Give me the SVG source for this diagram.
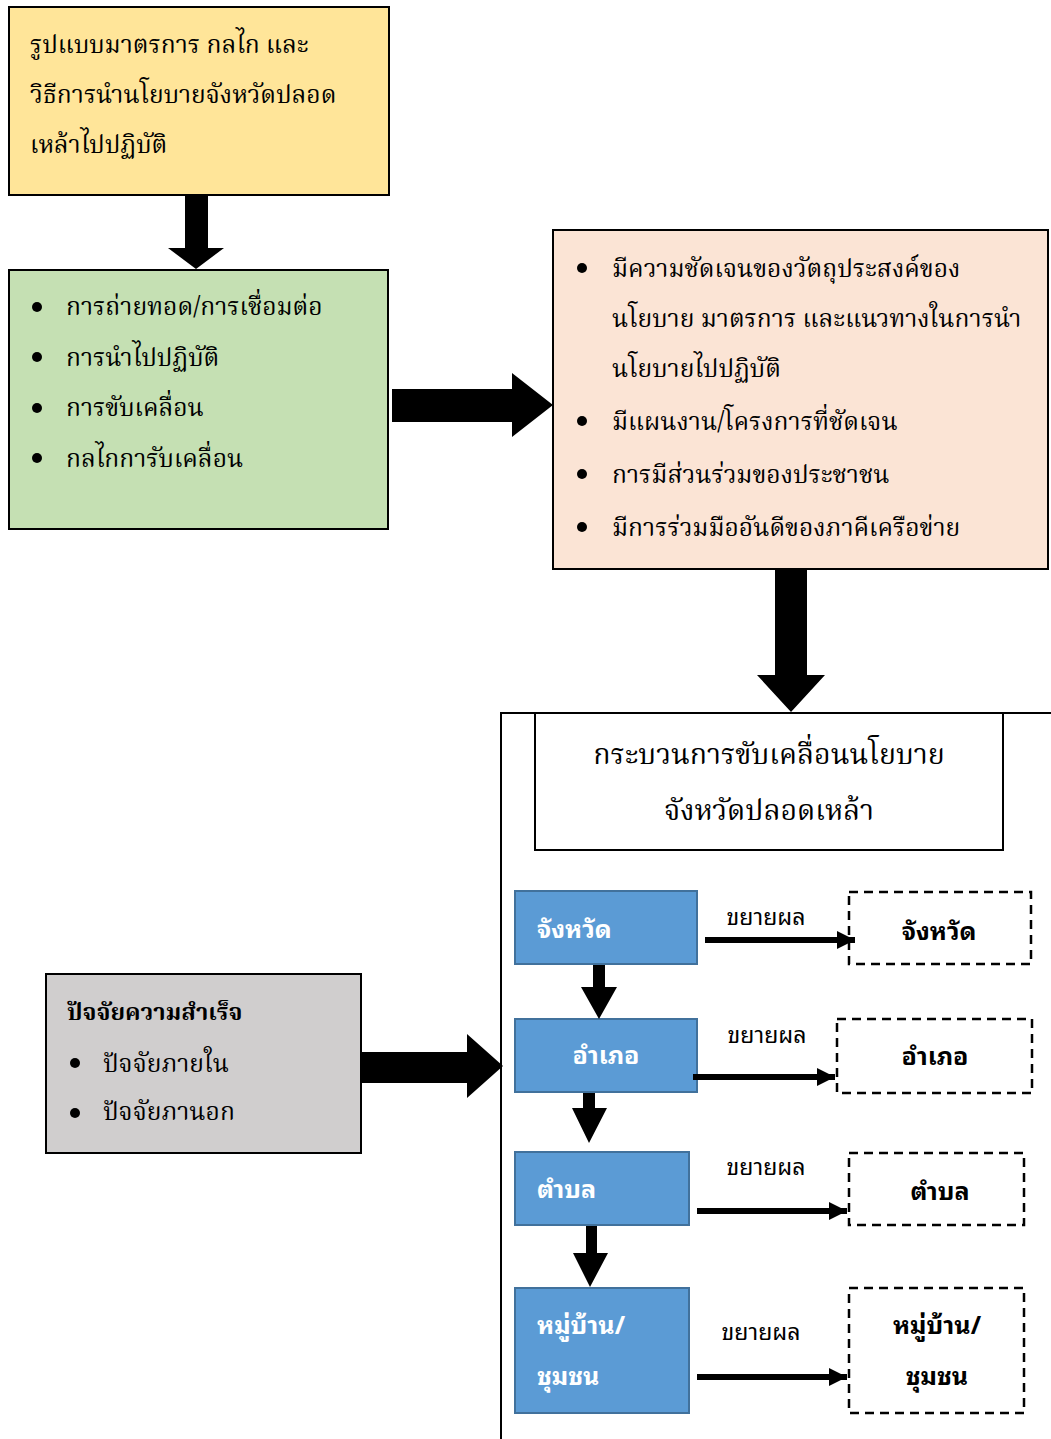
<svg xmlns="http://www.w3.org/2000/svg" width="1051" height="1439" viewBox="0 0 1051 1439">
<defs>
<style>
.box{stroke:#000;stroke-width:2}
.t{font-family:"Noto Serif Thai","Noto Sans Thai","Liberation Serif",serif;font-size:24.6px;fill:#000}
.tt{font-family:"Noto Serif Thai","Noto Sans Thai","Liberation Serif",serif;font-size:28.5px;fill:#000}
.s{font-family:"Noto Sans Thai Looped","Noto Sans Thai","Noto Sans","Liberation Sans",sans-serif;fill:#000}
.w{font-family:"Noto Sans Thai Looped","Noto Sans Thai","Noto Sans","Liberation Sans",sans-serif;font-size:25px;font-weight:bold;fill:#fff}
.k{fill:#000}
.blue{fill:#5B9BD5;stroke:#41719C;stroke-width:2}
.dash{fill:#fff;stroke:#000;stroke-width:2.5;stroke-dasharray:9 6}
.ar{fill:#000}
.ln{stroke:#000;stroke-width:6;fill:none;marker-end:url(#ah)}
</style>
<marker id="ah" markerUnits="userSpaceOnUse" markerWidth="18" markerHeight="20" refX="18" refY="9" orient="auto">
<path d="M0,0 L18,9 L0,18 z" fill="#000"/>
</marker>
</defs>
<rect width="1051" height="1439" fill="#fff"/>

<g id="container">
<path d="M501,1439 V713 H1051" fill="none" stroke="#000" stroke-width="2"/>
</g>

<g id="node-yellow">
<rect class="box" x="9" y="7" width="380" height="188" fill="#FFE599"/>
<text class="t" x="30" y="53">รูปแบบมาตรการ กลไก และ</text>
<text class="t" x="30" y="103">วิธีการนำนโยบายจังหวัดปลอด</text>
<text class="t" x="30" y="153">เหล้าไปปฏิบัติ</text>
</g>

<g id="node-green">
<rect class="box" x="9" y="270" width="379" height="259" fill="#C5E0B3"/>
<g fill="#000"><circle cx="37" cy="307" r="5"/><circle cx="37" cy="357" r="5"/><circle cx="37" cy="408" r="5"/><circle cx="37" cy="458" r="5"/></g>
<text class="t" x="66" y="315">การถ่ายทอด/การเชื่อมต่อ</text>
<text class="t" x="66" y="366">การนำไปปฏิบัติ</text>
<text class="t" x="66" y="416">การขับเคลื่อน</text>
<text class="t" x="66" y="467">กลไกการับเคลื่อน</text>
</g>

<g id="node-peach">
<rect class="box" x="553" y="230" width="495" height="339" fill="#FBE4D5"/>
<g fill="#000"><circle cx="582" cy="268" r="5"/><circle cx="582" cy="421" r="5"/><circle cx="582" cy="474" r="5"/><circle cx="582" cy="527" r="5"/></g>
<text class="t" x="612" y="277">มีความชัดเจนของวัตถุประสงค์ของ</text>
<text class="t" x="612" y="327">นโยบาย มาตรการ และแนวทางในการนำ</text>
<text class="t" x="612" y="377">นโยบายไปปฏิบัติ</text>
<text class="t" x="612" y="430">มีแผนงาน/โครงการที่ชัดเจน</text>
<text class="t" x="612" y="483">การมีส่วนร่วมของประชาชน</text>
<text class="t" x="612" y="536">มีการร่วมมืออันดีของภาคีเครือข่าย</text>
</g>

<g id="node-title">
<rect class="box" x="535" y="713" width="468" height="137" fill="#fff"/>
<text class="tt" x="769" y="764" text-anchor="middle">กระบวนการขับเคลื่อนนโยบาย</text>
<text class="tt" x="769" y="820" text-anchor="middle">จังหวัดปลอดเหล้า</text>
</g>

<g id="node-gray">
<rect class="box" x="46" y="974" width="315" height="179" fill="#D0CECE"/>
<text class="t" x="67" y="1020" font-weight="bold" style="font-size:23.5px">ปัจจัยความสำเร็จ</text>
<g fill="#000"><circle cx="75" cy="1063" r="5"/><circle cx="75" cy="1113" r="5"/></g>
<text class="t" x="103" y="1072">ปัจจัยภายใน</text>
<text class="t" x="103" y="1120">ปัจจัยภานอก</text>
</g>

<g id="node-b1"><rect class="blue" x="515" y="891" width="182" height="73"/><text class="w" x="537" y="938">จังหวัด</text></g>
<g id="node-b2"><rect class="blue" x="515" y="1019" width="182" height="73"/><text class="w" x="606" y="1064" text-anchor="middle">อำเภอ</text></g>
<g id="node-b3"><rect class="blue" x="515" y="1152" width="174" height="73"/><text class="w" x="537" y="1198">ตำบล</text></g>
<g id="node-b4"><rect class="blue" x="515" y="1288" width="174" height="125"/><text class="w" x="537" y="1334">หมู่บ้าน/</text><text class="w" x="537" y="1385">ชุมชน</text></g>

<g id="node-d1"><rect class="dash" x="849" y="892" width="182" height="72"/><text class="w k" x="939" y="940" text-anchor="middle">จังหวัด</text></g>
<g id="node-d2"><rect class="dash" x="837" y="1019" width="195" height="74"/><text class="w k" x="935" y="1065" text-anchor="middle">อำเภอ</text></g>
<g id="node-d3"><rect class="dash" x="849" y="1153" width="175" height="72"/><text class="w k" x="940" y="1200" text-anchor="middle">ตำบล</text></g>
<g id="node-d4"><rect class="dash" x="849" y="1288" width="175" height="125"/><text class="w k" x="937" y="1334" text-anchor="middle">หมู่บ้าน/</text><text class="w k" x="937" y="1385" text-anchor="middle">ชุมชน</text></g>

<g id="connectors">
<path class="ar" d="M185,195 H208 V248 H224 L196,269 L168,248 H185 Z"/>
<path class="ar" d="M392,389 H512 V373 L553,405 L512,437 V422 H392 Z"/>
<path class="ar" d="M775,569 H807 V675 H825 L791,712 L757,675 H775 Z"/>
<path class="ar" d="M362,1052 H467 V1034 L503,1066 L467,1098 V1083 H362 Z"/>
<path class="ar" d="M593,965 H605 V987 H617 L599,1019 L581,987 H593 Z"/>
<path class="ar" d="M583,1093 H595 V1108 H607 L589,1143 L572,1108 H583 Z"/>
<path class="ar" d="M586,1226 H597 V1253 H608 L590,1287 L573,1253 H586 Z"/>
<line class="ln" x1="705" y1="940" x2="855" y2="940"/>
<line class="ln" x1="693" y1="1077" x2="835" y2="1077"/>
<line class="ln" x1="697" y1="1211" x2="847" y2="1211"/>
<line class="ln" x1="697" y1="1377" x2="847" y2="1377"/>
<text class="s" font-size="23" x="766" y="925" text-anchor="middle">ขยายผล</text>
<text class="s" font-size="23" x="767" y="1043" text-anchor="middle">ขยายผล</text>
<text class="s" font-size="23" x="766" y="1175" text-anchor="middle">ขยายผล</text>
<text class="s" font-size="23" x="761" y="1340" text-anchor="middle">ขยายผล</text>
</g>
</svg>
